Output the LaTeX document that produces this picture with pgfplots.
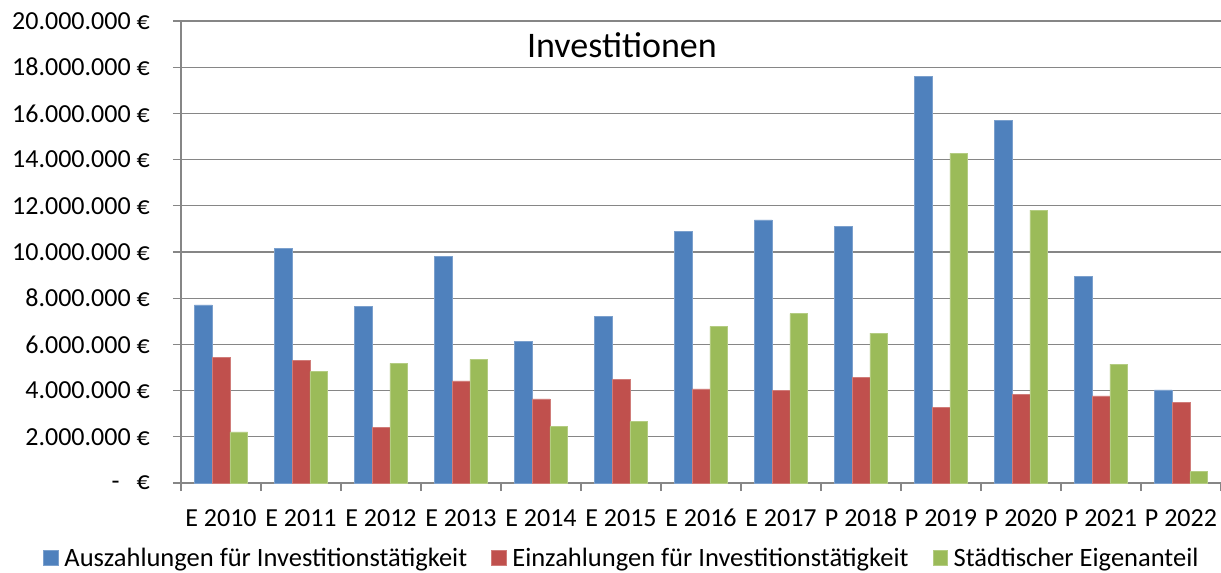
\documentclass[border=0pt]{standalone}
\usepackage{pgfplots}
\pgfplotsset{compat=1.18}
\usepackage{fontspec}
\setmainfont{Carlito}
\definecolor{cblue}{HTML}{4F81BD}
\definecolor{cred}{HTML}{C0504D}
\definecolor{cgreen}{HTML}{9BBB59}
\definecolor{axgray}{RGB}{134,134,134}
\pgfplotsset{sqlegend/.style={legend image code/.code={\fill[##1] (0pt,-6pt) rectangle (14.5pt,8.5pt);}}}
\begin{document}
\fontsize{26}{31}\selectfont
\begin{tikzpicture}[x=1pt,y=1pt]
\path[use as bounding box] (-181pt,-90pt) rectangle (1040pt,483pt);
\begin{axis}[
  at={(0pt,0pt)}, anchor=south west,
  scale only axis, width=1040pt, height=462pt,
  xmin=-0.5, xmax=12.5, ymin=0, ymax=20000000,
  axis lines=left, axis line style={-, draw=axgray, line width=1.2pt},
  ybar=0pt, bar width=17.7pt,
  ytick={0,2000000,4000000,6000000,8000000,10000000,12000000,14000000,16000000,18000000,20000000},
  yticklabels={{-\hspace{17pt}€},{2.000.000 €},{4.000.000 €},{6.000.000 €},{8.000.000 €},{10.000.000 €},{12.000.000 €},{14.000.000 €},{16.000.000 €},{18.000.000 €},{20.000.000 €}},
  scaled y ticks=false,
  ymajorgrids, grid style={draw=axgray, line width=1.2pt},
  tick align=outside, major tick length=8pt,
  tick style={draw=axgray, line width=1.2pt},
  yticklabel style={font=\fontsize{26}{31}\selectfont, anchor=east, inner sep=0pt, xshift=-23pt},
  xtick={-0.5,0.5,...,12.5}, xticklabels={},
  extra x ticks={0,1,2,3,4,5,6,7,8,9,10,11,12},
  extra x tick labels={E 2010,E 2011,E 2012,E 2013,E 2014,E 2015,E 2016,E 2017,P 2018,P 2019,P 2020,P 2021,P 2022},
  extra x tick style={major tick length=0pt, grid=none, xticklabel style={font=\fontsize{26}{31}\selectfont, anchor=center, yshift=-35pt}},
  sqlegend,
  legend columns=3,
  legend style={draw=none, fill=none, at={(0.423,-0.1645)}, anchor=center, font=\fontsize{26.5}{31}\selectfont,
    nodes={inner sep=0pt},
    /tikz/every odd column/.append style={column sep=6pt},
    /tikz/every even column/.append style={column sep=24pt}, inner sep=0pt},
  legend cell align=left,
]
\addplot[fill=cblue, draw=cblue!75!white, line width=0.6pt] coordinates {
 (0,7710000) (1,10150000) (2,7660000) (3,9810000) (4,6120000) (5,7220000) (6,10900000) (7,11390000) (8,11110000) (9,17590000) (10,15710000) (11,8960000) (12,4030000)};
\addplot[fill=cred, draw=cred!75!white, line width=0.6pt] coordinates {
 (0,5450000) (1,5310000) (2,2420000) (3,4420000) (4,3640000) (5,4500000) (6,4070000) (7,4010000) (8,4560000) (9,3260000) (10,3850000) (11,3770000) (12,3480000)};
\addplot[fill=cgreen, draw=cgreen!75!white, line width=0.6pt] coordinates {
 (0,2210000) (1,4830000) (2,5180000) (3,5350000) (4,2440000) (5,2670000) (6,6780000) (7,7330000) (8,6490000) (9,14270000) (10,11810000) (11,5150000) (12,490000)};
\legend{Auszahlungen für Investitionstätigkeit, Einzahlungen für Investitionstätigkeit, Städtischer Eigenanteil}
\node[font=\fontsize{36}{43}\selectfont, anchor=center] at (rel axis cs:0.424,0.948) {Investitionen};
\end{axis}
\end{tikzpicture}
\end{document}
